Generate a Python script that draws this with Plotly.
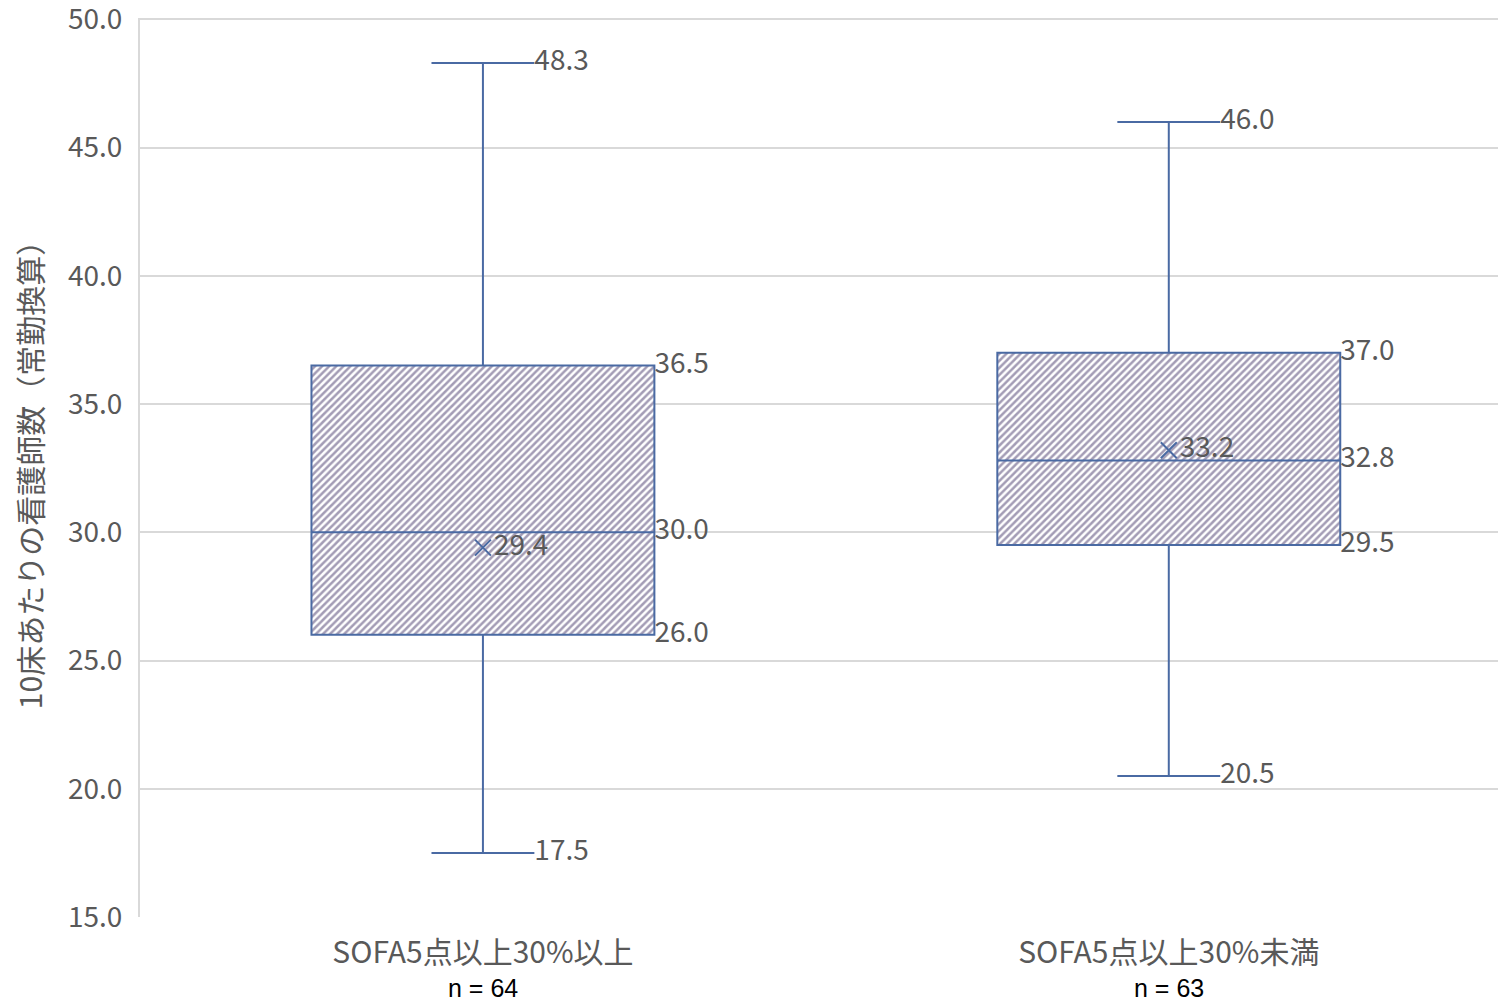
import plotly.graph_objects as go

# box-plot summary values
categories = ["SOFA5点以上30%以上", "SOFA5点以上30%未満"]
n_labels = ["n = 64", "n = 63"]
lower = [17.5, 20.5]
q1 = [26.0, 29.5]
median = [30.0, 32.8]
q3 = [36.5, 37.0]
upper = [48.3, 46.0]
mean = [29.4, 33.2]

xpos = [0, 1]
box_w = 0.5
cap_w = 0.3  # relative to box width

line_col = "#4A6AA3"
text_col = "#595959"
jp_font = "Noto Sans CJK JP"
lbl_size = 28

fig = go.Figure()

# hatched fill of the boxes (box traces can't do patterns, bars can)
fig.add_trace(go.Bar(
    x=xpos,
    y=[b - a for a, b in zip(q1, q3)],
    base=q1,
    width=box_w,
    marker=dict(
        color="white",
        line=dict(width=0),
        pattern=dict(shape="/", size=5, solidity=0.5, fgcolor="#47396B", bgcolor="white"),
    ),
    hoverinfo="skip",
    showlegend=False,
))

fig.add_trace(go.Box(
    x=xpos,
    q1=q1,
    median=median,
    q3=q3,
    lowerfence=lower,
    upperfence=upper,
    width=box_w,
    whiskerwidth=cap_w,
    fillcolor="rgba(0,0,0,0)",
    line=dict(color=line_col, width=2),
    showlegend=False,
))

# mean markers with their label
fig.add_trace(go.Scatter(
    x=xpos,
    y=mean,
    mode="markers+text",
    marker=dict(symbol="x-thin-open", size=16, color=line_col, line=dict(color=line_col, width=2)),
    text=[f"{v:.1f}" for v in mean],
    textposition="middle right",
    textfont=dict(family=jp_font, size=lbl_size, color=text_col),
    showlegend=False,
))

# value labels at box edges
for vals in (q1, median, q3):
    fig.add_trace(go.Scatter(
        x=[x + box_w / 2 for x in xpos],
        y=vals,
        mode="text",
        text=[f"{v:.1f}" for v in vals],
        textposition="middle right",
        textfont=dict(family=jp_font, size=lbl_size, color=text_col),
        showlegend=False,
    ))

# value labels at whisker caps
for vals in (lower, upper):
    fig.add_trace(go.Scatter(
        x=[x + box_w * cap_w / 2 for x in xpos],
        y=vals,
        mode="text",
        text=[f"{v:.1f}" for v in vals],
        textposition="middle right",
        textfont=dict(family=jp_font, size=lbl_size, color=text_col),
        showlegend=False,
    ))

for x, n in zip(xpos, n_labels):
    fig.add_annotation(
        x=x, y=0, xref="x", yref="paper",
        text=n, showarrow=False, yanchor="middle", yshift=-71,
        font=dict(family="Liberation Sans", size=25, color="black"),
    )

fig.update_layout(
    width=1499,
    height=1003,
    margin=dict(l=140, r=1, t=18, b=86),
    plot_bgcolor="white",
    paper_bgcolor="white",
    font=dict(family=jp_font, color=text_col),
    xaxis=dict(
        range=[-0.5, 1.48],
        tickvals=xpos,
        ticktext=categories,
        tickfont=dict(size=30, color=text_col),
        showgrid=False,
        zeroline=False,
        ticks="",
        ticklabelstandoff=15,
        automargin=False,
    ),
    yaxis=dict(
        range=[15, 50.05],
        tickvals=[15, 20, 25, 30, 35, 40, 45, 50],
        tickformat=".1f",
        tickfont=dict(size=28, color=text_col),
        ticklabeloverflow="allow",
        gridcolor="#D9D9D9",
        gridwidth=2,
        showline=True,
        linecolor="#D9D9D9",
        linewidth=2,
        zeroline=False,
        ticklabelstandoff=10,
        automargin=False,
        title=dict(text="10床あたりの看護師数（常勤換算）", font=dict(size=30, color=text_col), standoff=16),
    ),
)

# drop the browser's default 8px body margin so the figure sits at the page corner
fig.write_html(
    "out.html",
    config={"displayModeBar": False},
    post_script="document.body.style.margin='0';",
)
